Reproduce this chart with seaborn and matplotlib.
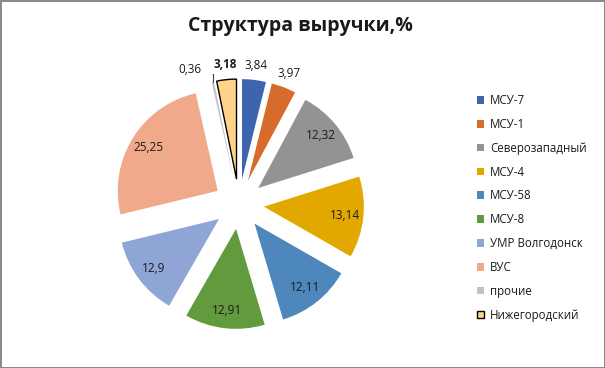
import numpy as np
import matplotlib
matplotlib.use("Agg")
import matplotlib.pyplot as plt
import seaborn as sns

# данные
names = ["МСУ-7", "МСУ-1", "Северозападный", "МСУ-4", "МСУ-58", "МСУ-8",
         "УМР Волгодонск", "ВУС", "прочие", "Нижегородский"]
values = [3.84, 3.97, 12.32, 13.14, 12.11, 12.91, 12.9, 25.25, 0.36, 3.18]
value_labels = ["3,84", "3,97", "12,32", "13,14", "12,11", "12,91", "12,9", "25,25", "0,36", "3,18"]
colors = ["#3d64ae", "#d76b2b", "#939393", "#e2a800", "#4d87bc", "#629a3e",
          "#8fa5d6", "#f0a98a", "#c2c2c2", "#ffd389"]

sns.set_theme(style="white")
plt.rcParams['font.family'] = ['Open Sans', 'DejaVu Sans']
palette = sns.color_palette(colors)

fig = plt.figure(figsize=(6.05, 3.68), dpi=100)
fig.patch.set_edgecolor("#8a8a8a")
fig.patch.set_linewidth(2)

ax = fig.add_axes([109 / 605, 34 / 368, 260 / 605, 260 / 368])
wedges, _ = ax.pie(values, colors=palette, startangle=90, counterclock=False,
                   explode=[0.25] * len(values), radius=1.0,
                   wedgeprops=dict(linewidth=0))
ax.set_xlim(-1.3, 1.3)
ax.set_ylim(-1.3, 1.3)
ax.set_aspect("equal")
ax.axis("off")

# рамка у Нижегородского
wedges[-1].set_edgecolor("black")
wedges[-1].set_linewidth(1.0)

fs = 8.5
for i, w in enumerate(wedges):
    mid = np.deg2rad((w.theta1 + w.theta2) / 2)
    cx, cy = w.center
    if values[i] > 10:
        d = 0.82
        x, y = cx + d * np.cos(mid), cy + d * np.sin(mid)
        ax.text(x, y, value_labels[i], ha="center", va="center", fontsize=fs, color="#1a1a1a")
    elif names[i] == "прочие":
        ang = mid + np.deg2rad(9.6)
        x, y = cx + 1.18 * np.cos(ang), cy + 1.18 * np.sin(ang)
        ax.text(x, y, value_labels[i], ha="center", va="center", fontsize=fs, color="#1a1a1a")
        px, py = cx + np.cos(mid), cy + np.sin(mid)
        ax.plot([x + 0.16, px, px], [y - 0.03, y - 0.03, py], color="#404040", lw=0.8)
    else:
        d = 1.15
        x, y = cx + d * np.cos(mid), cy + d * np.sin(mid)
        weight = "bold" if names[i] == "Нижегородский" else "normal"
        ax.text(x, y, value_labels[i], ha="center", va="center", fontsize=fs,
                color="#1a1a1a", fontweight=weight)

fig.text(300 / 605, 1 - 26 / 368, "Структура выручки,%", ha="center", va="center",
         fontsize=14, fontweight="bold", color="#1a1a1a")

fig.legend(wedges, names, loc="upper left", bbox_to_anchor=(477 / 605, 1 - 94 / 368),
           frameon=False, fontsize=8.3, labelspacing=0.94, handlelength=0.65,
           handleheight=0.65, handletextpad=0.5, borderpad=0, borderaxespad=0,
           labelcolor="#1a1a1a")

fig.savefig("out.png", dpi=100)
